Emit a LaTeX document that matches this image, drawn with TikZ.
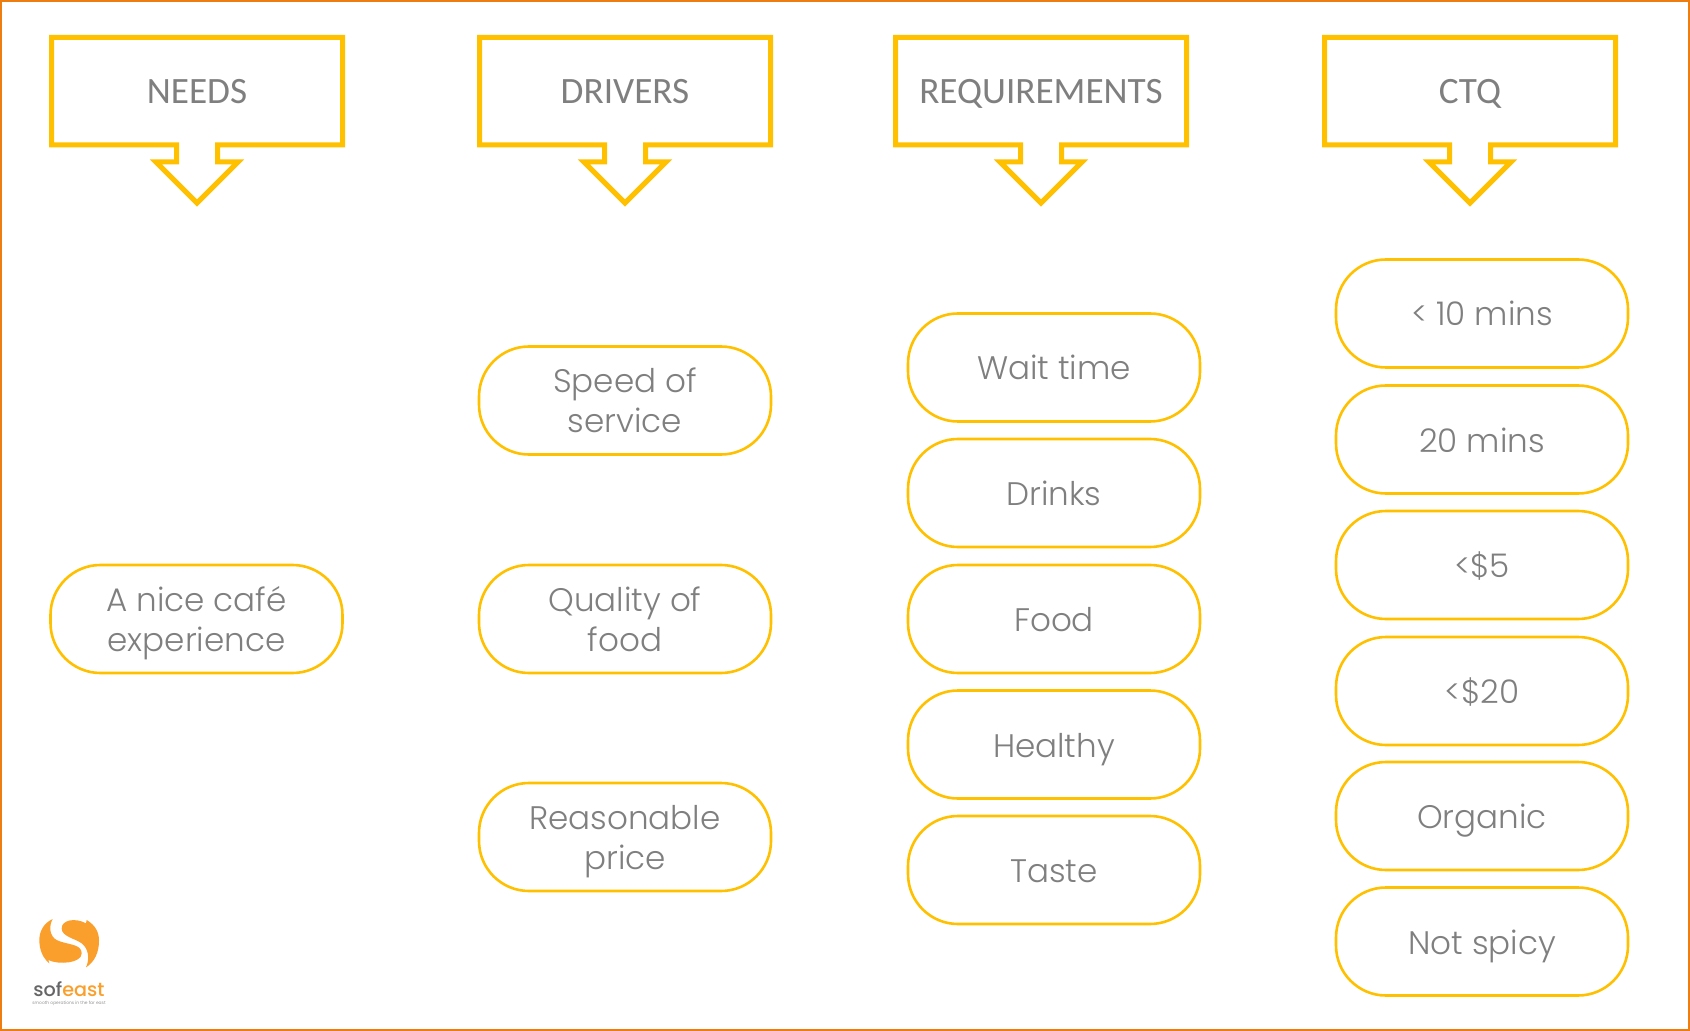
\documentclass[tikz,border=0pt]{standalone}
\usepackage{fontspec}
\newfontfamily\headfont{Carlito}
\newfontfamily\pillfont[UprightFont=* Light]{Poppins}
\newfontfamily\logofont[UprightFont=* Medium]{Poppins}
\newfontfamily\tagfont{Poppins}
\definecolor{framec}{HTML}{EE7D11}
\definecolor{boxc}{HTML}{FFC000}
\definecolor{txtc}{HTML}{7F7F7F}
\definecolor{logoc}{HTML}{FB9F2C}
\definecolor{logog}{HTML}{666666}
\lineskiplimit=-100pt
\newcommand{\ls}{\rule[-5pt]{0pt}{22.5pt}}
\tikzset{
  headline/.style={draw=boxc,line width=2.5pt,miter limit=10},
  headtxt/.style={text=txtc,font=\headfont\fontsize{18.6}{20}\selectfont,inner sep=0pt},
  pill/.style={draw=boxc,line width=1.3pt,rounded corners=25pt,minimum width=146pt,minimum height=54pt,
    text=txtc,font=\pillfont\fontsize{16.3}{20}\selectfont,align=center,inner sep=0pt}
}
\newcommand{\headerbox}[3]{%
  \node[headtxt] (#1) at (#2,91) {\rule[-5pt]{0pt}{23pt}#3};
  \draw[headline] (#2-145.5,37.5) -- (#2+145.5,37.5) -- (#2+145.5,145) -- (#2+20.5,145)
    -- (#2+20.5,162) -- (#2+41,162) -- (#2,203) -- (#2-41,162) -- (#2-20.5,162)
    -- (#2-20.5,145) -- (#2-145.5,145) -- cycle;
}
\begin{document}
\begin{tikzpicture}[x=0.5pt,y=-0.5pt]
\useasboundingbox (0,0) rectangle (1690,1031);
\draw[framec,line width=1pt] (1,1) rectangle (1689,1030);
\headerbox{needs}{197}{NEEDS}
\headerbox{drivers}{625}{DRIVERS}
\headerbox{reqs}{1041}{REQUIREMENTS}
\headerbox{ctq}{1470}{CTQ}
\node[pill] (n1) at (196.5,619) {\ls A nice café\\\ls experience};
\node[pill] (d1) at (625,400.5) {\ls Speed of\\\ls service};
\node[pill] (d2) at (625,619) {\ls Quality of\\\ls food};
\node[pill] (d3) at (625,837) {\ls Reasonable\\\ls price};
\node[pill] (r1) at (1054,367.5) {\ls Wait time};
\node[pill] (r2) at (1054,493) {\ls Drinks};
\node[pill] (r3) at (1054,619) {\ls Food};
\node[pill] (r4) at (1054,744.5) {\ls Healthy};
\node[pill] (r5) at (1054,870) {\ls Taste};
\node[pill] (c1) at (1482,313.5) {\ls < 10 mins};
\node[pill] (c2) at (1482,439.5) {\ls 20 mins};
\node[pill] (c3) at (1482,565) {\ls <\$5};
\node[pill] (c4) at (1482,691) {\ls <\$20};
\node[pill] (c5) at (1482,816) {\ls Organic};
\node[pill] (c6) at (1482,941.5) {\ls Not spicy};
% logo
\begin{scope}[shift={(0,880)},x=0.1667pt,y=-0.1667pt]
\fill[logoc] (158,117) .. controls (130,130) and (118,155) .. (118,180)
  .. controls (118,212) and (130,235) .. (148,250) -- (145,240)
  .. controls (175,255) and (245,250) .. (245,220)
  .. controls (245,190) and (200,195) .. (170,180)
  .. controls (150,170) and (145,140) .. (158,117) -- cycle;
\fill[logoc] (260,120) -- (258,130) .. controls (225,112) and (185,120) .. (185,145)
  .. controls (185,170) and (225,175) .. (245,190)
  .. controls (265,205) and (270,235) .. (258,262)
  .. controls (285,245) and (297,215) .. (297,182)
  .. controls (297,155) and (285,135) .. (260,120) -- cycle;
\end{scope}
\node[inner sep=0pt,font=\logofont\fontsize{9.6}{11}\selectfont] (logo) at (69,989) {\textcolor{logog}{sof}\textcolor{logoc}{east}};
\node[inner sep=0pt,text=logog!70,font=\tagfont\fontsize{2.2}{3}\selectfont] (tag) at (69,1003) {smooth operations in the far east};
\end{tikzpicture}
\end{document}
